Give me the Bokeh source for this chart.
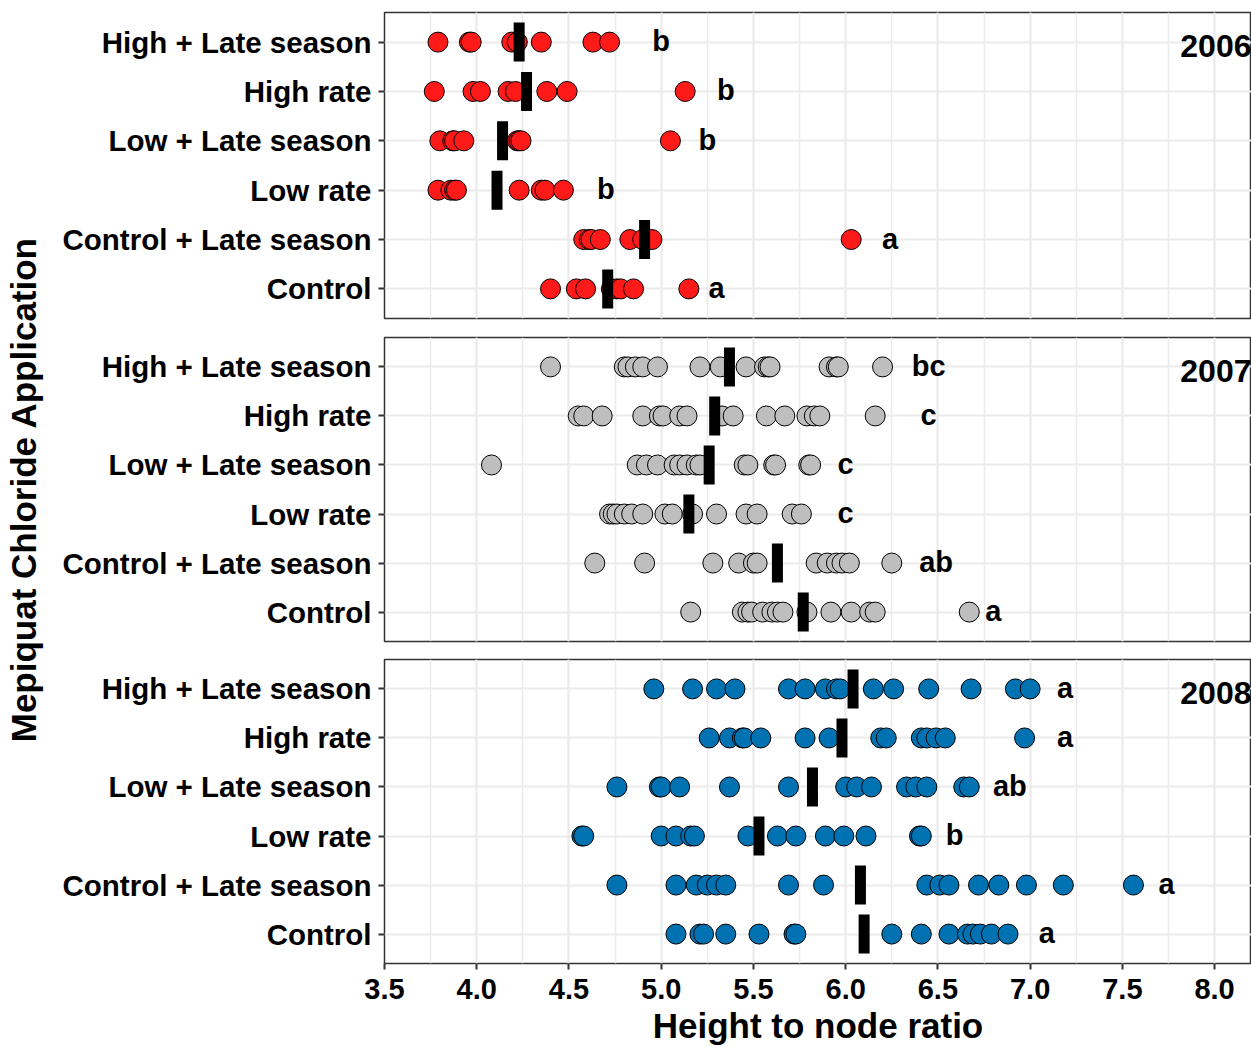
from bokeh.plotting import figure
from bokeh.layouts import column, row
from bokeh.models import (Range1d, FactorRange, SingleIntervalTicker, FixedTicker,
                          ColumnDataSource, PrintfTickFormatter)
from bokeh.embed import file_html
from bokeh.resources import INLINE
from bokeh.core.properties import value

# ---------------- data ----------------
treatments = ["High + Late season", "High rate", "Low + Late season",
              "Low rate", "Control + Late season", "Control"]
years = ["2006", "2007", "2008"]
year_colors = ["#FF1A1A", "#BEBEBE", "#0072B2"]
x_ticks = [3.5, 4.0, 4.5, 5.0, 5.5, 6.0, 6.5, 7.0, 7.5, 8.0]
y_title = "Mepiquat Chloride Application"
x_title = "Height to node ratio"

# 2006
hl06 = [3.79, 3.96, 3.97, 4.19, 4.22, 4.35, 4.63, 4.72]
hr06 = [3.77, 3.98, 4.02, 4.17, 4.21, 4.38, 4.49, 5.13]
ll06 = [3.80, 3.87, 3.88, 3.93, 4.22, 4.23, 4.24, 5.05]
lr06 = [3.79, 3.86, 3.88, 3.89, 4.23, 4.35, 4.37, 4.47]
cl06 = [4.58, 4.61, 4.62, 4.67, 4.83, 4.90, 4.95, 6.03]
c06 = [4.40, 4.54, 4.59, 4.73, 4.76, 4.78, 4.85, 5.15]
means06 = [4.23, 4.27, 4.14, 4.11, 4.91, 4.71]
letters06 = ["b", "b", "b", "b", "a", "a"]
letter_x06 = [5.00, 5.35, 5.25, 4.70, 6.24, 5.30]

# 2007
hl07 = [4.40, 4.80, 4.82, 4.86, 4.90, 4.98, 5.21, 5.32, 5.46, 5.56, 5.58, 5.59, 5.91, 5.95, 5.96, 6.20]
hr07 = [4.55, 4.58, 4.68, 4.90, 4.99, 5.01, 5.10, 5.14, 5.33, 5.39, 5.57, 5.67, 5.79, 5.83, 5.86, 6.16]
ll07 = [4.08, 4.87, 4.92, 4.98, 5.07, 5.10, 5.14, 5.19, 5.21, 5.45, 5.47, 5.61, 5.62, 5.80, 5.81]
lr07 = [4.72, 4.74, 4.76, 4.80, 4.84, 4.90, 5.02, 5.06, 5.17, 5.30, 5.46, 5.52, 5.71, 5.76]
cl07 = [4.64, 4.91, 5.28, 5.42, 5.50, 5.52, 5.84, 5.90, 5.95, 5.98, 6.02, 6.25]
c07 = [5.16, 5.44, 5.47, 5.49, 5.55, 5.60, 5.63, 5.66, 5.79, 5.92, 6.03, 6.13, 6.16, 6.67]
means07 = [5.37, 5.29, 5.26, 5.15, 5.63, 5.77]
letters07 = ["bc", "c", "c", "c", "ab", "a"]
letter_x07 = [6.45, 6.45, 6.00, 6.00, 6.49, 6.80]

# 2008
hl08 = [4.96, 5.17, 5.30, 5.40, 5.69, 5.78, 5.89, 5.95, 5.97, 6.15, 6.26, 6.45, 6.68, 6.92, 7.00]
hr08 = [5.26, 5.37, 5.44, 5.45, 5.54, 5.78, 5.91, 6.19, 6.22, 6.41, 6.44, 6.49, 6.54, 6.97]
ll08 = [4.76, 4.99, 5.00, 5.10, 5.37, 5.69, 6.00, 6.06, 6.14, 6.33, 6.38, 6.44, 6.64, 6.67]
lr08 = [4.57, 4.58, 5.00, 5.08, 5.16, 5.18, 5.47, 5.63, 5.73, 5.89, 5.99, 6.11, 6.40, 6.41]
cl08 = [4.76, 5.08, 5.19, 5.25, 5.30, 5.35, 5.69, 5.88, 6.44, 6.51, 6.56, 6.72, 6.83, 6.98, 7.18, 7.56]
c08 = [5.08, 5.21, 5.23, 5.35, 5.53, 5.72, 5.73, 6.25, 6.41, 6.56, 6.66, 6.69, 6.73, 6.79, 6.88]
means08 = [6.04, 5.98, 5.82, 5.53, 6.08, 6.10]
letters08 = ["a", "a", "ab", "b", "a", "a"]
letter_x08 = [7.19, 7.19, 6.89, 6.59, 7.74, 7.09]

panels = [
    ([hl06, hr06, ll06, lr06, cl06, c06], means06, letters06, letter_x06),
    ([hl07, hr07, ll07, lr07, cl07, c07], means07, letters07, letter_x07),
    ([hl08, hr08, ll08, lr08, cl08, c08], means08, letters08, letter_x08),
]

# ---------------- styling / layout ----------------
FONT = "Liberation Sans"
TOTAL_W, TOTAL_H = 1251, 1047
LABEL_W = 58
PLOT_W = TOTAL_W - LABEL_W
BORDER_LEFT = 384 - LABEL_W
X_START, X_END = 3.5, 8.2
x_range = Range1d(X_START, X_END)

# (height, border_top, border_bottom)
layout_specs = [(328, 12, 10), (322, 9, 9), (397, 9, 82)]

figs = []
for i, (series, means, letters, letter_x) in enumerate(panels):
    h, bt, bb = layout_specs[i]
    p = figure(width=PLOT_W, height=h, x_range=x_range,
               y_range=FactorRange(factors=list(reversed(treatments)),
                                   range_padding=0.1, range_padding_units="absolute"),
               output_backend="svg", toolbar_location=None,
               min_border_left=BORDER_LEFT, min_border_right=0,
               min_border_top=bt, min_border_bottom=bb)
    p.background_fill_color = "white"
    p.border_fill_color = "white"
    p.outline_line_color = "#333333"
    p.outline_line_width = 1.5

    ticker = SingleIntervalTicker(interval=0.5, num_minor_ticks=2)
    p.xaxis.ticker = ticker
    p.xgrid.ticker = ticker
    p.xgrid.grid_line_color = "#EBEBEB"
    p.xgrid.grid_line_width = 2
    p.xgrid.minor_grid_line_color = "#EBEBEB"
    p.xgrid.minor_grid_line_width = 1.5
    p.ygrid.grid_line_color = "#EBEBEB"
    p.ygrid.grid_line_width = 2

    for ax in (p.xaxis, p.yaxis):
        ax.axis_line_color = None
        ax.major_tick_line_color = "#333333"
        ax.major_tick_line_width = 2
        ax.major_tick_out = 6
        ax.major_tick_in = 0
        ax.minor_tick_line_color = None
        ax.major_label_text_font = FONT
        ax.major_label_text_font_style = "bold"
        ax.major_label_text_color = "black"
        ax.axis_label_text_font = FONT
        ax.axis_label_text_font_style = "bold"
        ax.axis_label_text_color = "black"

    p.yaxis.major_label_text_font_size = "29.5px"
    p.yaxis.major_label_standoff = 7
    p.xaxis.major_label_text_font_size = "29px"
    p.xaxis.major_label_standoff = 9
    p.xaxis.formatter = PrintfTickFormatter(format="%.1f")

    if i == 2:
        p.xaxis.axis_label = x_title
        p.xaxis.axis_label_text_font_size = "35px"
        p.xaxis.axis_label_standoff = 4
    else:
        p.xaxis.visible = False

    xs, ys = [], []
    for t, vals in zip(treatments, series):
        xs.extend(vals)
        ys.extend([t] * len(vals))
    src = ColumnDataSource(dict(x=xs, y=ys))
    p.scatter("x", "y", source=src, size=20, fill_color=year_colors[i],
              line_color="black", line_width=1)

    msrc = ColumnDataSource(dict(x=means, y=treatments))
    p.rect("x", "y", source=msrc, width=11, height=39,
           width_units="screen", height_units="screen",
           fill_color="black", line_color=None)

    lsrc = ColumnDataSource(dict(x=letter_x, y=treatments, t=letters))
    p.text("x", "y", text="t", source=lsrc, text_align="center",
           text_baseline="middle", text_font=value(FONT),
           text_font_style="bold", text_font_size="29px", text_color="black",
           y_offset=-1)

    p.text(x=[X_END], y=[treatments[0]], text=[years[i]], text_align="right",
           text_baseline="middle", text_font=value(FONT), text_font_style="bold",
           text_font_size="32px", text_color="black", x_offset=0, y_offset=4)

    figs.append(p)

# y-axis title spanning all panels, centred on the middle panel
mid_center_from_top = layout_specs[0][0] + layout_specs[1][1] + \
    (layout_specs[1][0] - layout_specs[1][1] - layout_specs[1][2]) / 2
lab_frame_h = int(round(2 * mid_center_from_top))
lab = figure(width=LABEL_W, height=TOTAL_H, x_range=Range1d(0, 1), y_range=Range1d(0, 1),
             output_backend="svg", toolbar_location=None, x_axis_location=None,
             min_border_left=13, min_border_right=0, min_border_top=0,
             min_border_bottom=TOTAL_H - lab_frame_h)
lab.outline_line_color = None
lab.grid.visible = False
lab.background_fill_color = "white"
lab.border_fill_color = "white"
lab.yaxis.ticker = FixedTicker(ticks=[])
lab.yaxis.axis_line_color = None
lab.yaxis.major_tick_line_color = None
lab.yaxis.minor_tick_line_color = None
lab.yaxis.major_label_standoff = 0
lab.yaxis.axis_label = y_title
lab.yaxis.axis_label_standoff = 0
lab.yaxis.axis_label_text_font = FONT
lab.yaxis.axis_label_text_font_style = "bold"
lab.yaxis.axis_label_text_font_size = "35px"
lab.yaxis.axis_label_text_color = "black"

layout = row(lab, column(*figs))
open("out.html", "w").write(file_html(layout, INLINE))
